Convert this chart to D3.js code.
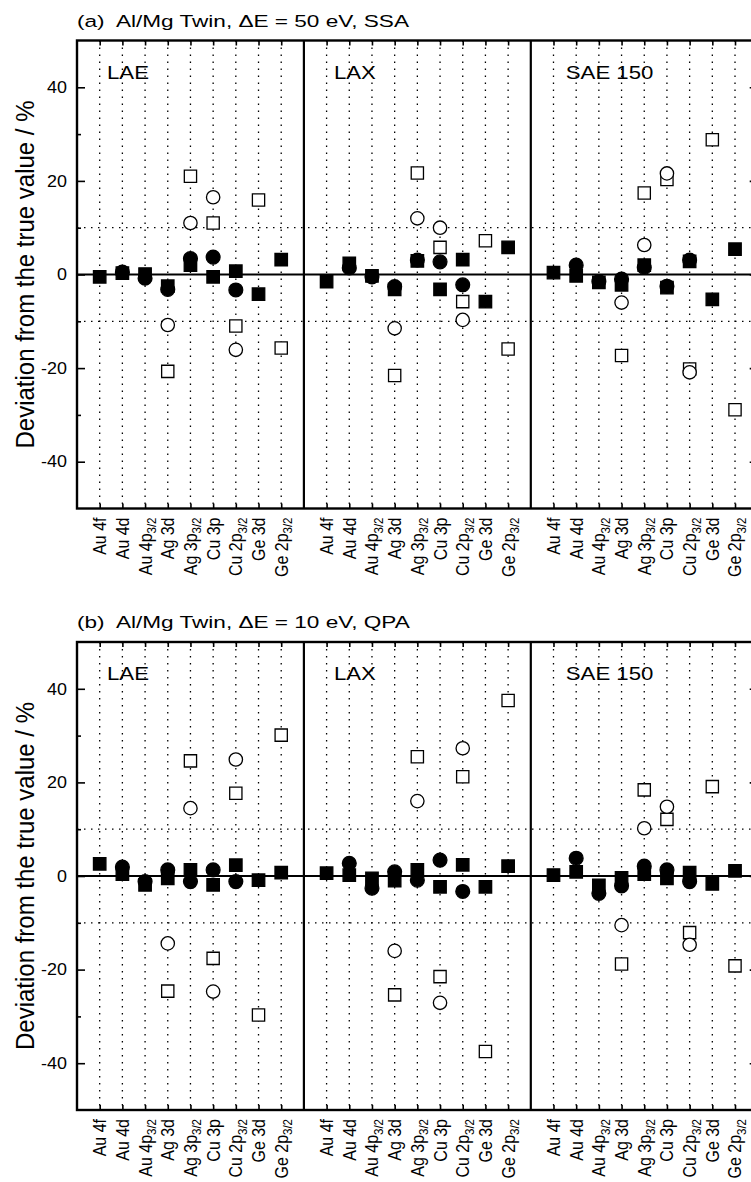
<!DOCTYPE html>
<html>
<head>
<meta charset="utf-8">
<script src="https://cdn.jsdelivr.net/npm/d3@7"></script>
<style>
  body { margin: 0; background: #fff; }
  svg { display: block; font-family: "Liberation Sans", Arial, sans-serif; }
  text { white-space: pre; }
</style>
</head>
<body>
<div id="chart"></div>
<script>
const categories = ["Au 4f", "Au 4d", "Au 4p", "Ag 3d", "Ag 3p", "Cu 3p", "Cu 2p", "Ge 3d", "Ge 2p"]
const subscripts = ["", "", "3/2", "", "3/2", "", "3/2", "", "3/2"]
const methods = ["LAE", "LAX", "SAE 150"]
const panelTitles = ["(a)  Al/Mg Twin, \u0394E = 50 eV, SSA", "(b)  Al/Mg Twin, \u0394E = 10 eV, QPA"]
const yTickValues = [40, 20, 0, -20, -40]
const yMinorValues = [30, 10, -10, -30]
const yTitle = "Deviation from the true value / %"

// 27 values each: LAE (9 lines), LAX (9 lines), SAE 150 (9 lines); null = not visible
const aFilledSquare = [-0.5, 0.3, 0.1, -2.5, 2.0, -0.5, 0.7, -4.2, 3.2,
                       -1.5, 2.4, -0.3, -3.2, 2.9, -3.2, 3.2, -5.8, 5.8,
                       0.4, -0.3, -1.7, -2.2, 2.0, -2.8, 2.8, -5.3, 5.4]
const aFilledCircle = [null, 0.5, -0.8, -3.2, 3.4, 3.7, -3.3, null, null,
                       null, 1.4, -0.5, -2.6, 3.1, 2.7, -2.2, null, null,
                       null, 2.0, -1.5, -1.0, 1.5, -2.5, 3.1, null, null]
const aOpenSquare = [null, null, null, -20.7, 21.0, 11.0, -11.0, 15.9, -15.7,
                     null, null, null, -21.6, 21.7, 5.8, -5.8, 7.2, -15.9,
                     null, null, null, -17.3, 17.4, 20.3, -20.2, 28.8, -28.9]
const aOpenCircle = [null, null, null, -10.8, 11.0, 16.5, -16.1, null, null,
                     null, null, null, -11.5, 12.0, 10.0, -9.7, null, null,
                     null, null, null, -6.0, 6.3, 21.6, -20.9, null, null]

const bFilledSquare = [2.6, 0.4, -1.9, -0.5, 1.3, -1.9, 2.3, -0.9, 0.7,
                       0.6, 0.2, -0.5, -1.0, 1.3, -2.3, 2.4, -2.3, 2.1,
                       0.2, 0.9, -2.0, -0.4, 0.4, -0.5, 0.7, -1.7, 1.1]
const bFilledCircle = [null, 1.9, -1.2, 1.3, -1.2, 1.3, -1.2, null, null,
                       null, 2.7, -2.6, 0.9, -0.9, 3.4, -3.3, null, null,
                       null, 3.8, -3.7, -2.1, 2.1, 1.3, -1.2, null, null]
const bOpenSquare = [null, null, null, -24.6, 24.6, -17.6, 17.7, -29.7, 30.1,
                     null, null, null, -25.4, 25.5, -21.5, 21.2, -37.5, 37.5,
                     null, null, null, -18.8, 18.4, 12.1, -12.1, 19.1, -19.2]
const bOpenCircle = [null, null, null, -14.4, 14.5, -24.7, 24.9, null, null,
                     null, null, null, -16.0, 16.0, -27.1, 27.3, null, null,
                     null, null, null, -10.5, 10.2, 14.8, -14.7, null, null]

const width = 751
const height = 1182
const left = 77
const right = 757.7

const panels = [
  {title: panelTitles[0], top: 40.5, bottom: 508.5,
   series: {openSquare: aOpenSquare, openCircle: aOpenCircle, filledSquare: aFilledSquare, filledCircle: aFilledCircle}},
  {title: panelTitles[1], top: 642, bottom: 1110,
   series: {openSquare: bOpenSquare, openCircle: bOpenCircle, filledSquare: bFilledSquare, filledCircle: bFilledCircle}}
]

const markerStyles = [
  {key: 'openSquare', type: d3.symbolSquare, size: 150, fill: '#fff'},
  {key: 'openCircle', type: d3.symbolCircle, size: 140, fill: '#fff'},
  {key: 'filledSquare', type: d3.symbolSquare, size: 155, fill: '#000'},
  {key: 'filledCircle', type: d3.symbolCircle, size: 150, fill: '#000'}
]

const svg = d3.select('#chart')
  .append('svg')
  .attr('width', width)
  .attr('height', height)

const xScale = d3.scaleLinear().domain([0, 30]).range([left, right])
const catPos = d3.range(27).map(k => Math.floor(k / 9) * 10 + (k % 9) + 1)

const stretchText = (g, x, y, sx, rotate) =>
  g.append('text')
    .attr('transform', `translate(${x},${y}) scale(${sx},1)` + (rotate ? ' rotate(-90)' : ''))

panels.forEach(p => {
  const yScale = d3.scaleLinear().domain([-50, 50]).range([p.bottom, p.top])
  const g = svg.append('g')

  // dotted grid
  g.selectAll('.vgrid')
    .data(catPos)
    .enter()
    .append('line')
    .attr('x1', d => xScale(d)).attr('x2', d => xScale(d))
    .attr('y1', p.top).attr('y2', p.bottom)
    .attr('stroke', '#000').attr('stroke-width', 1.3)
    .attr('stroke-dasharray', '1.5,5.5')

  g.selectAll('.hgrid')
    .data([10, -10])
    .enter()
    .append('line')
    .attr('x1', left).attr('x2', right)
    .attr('y1', d => yScale(d)).attr('y2', d => yScale(d))
    .attr('stroke', '#000').attr('stroke-width', 1.3)
    .attr('stroke-dasharray', '1.5,5.5')

  // zero line and group dividers
  g.append('line')
    .attr('x1', left).attr('x2', right)
    .attr('y1', yScale(0)).attr('y2', yScale(0))
    .attr('stroke', '#000').attr('stroke-width', 2)
  g.selectAll('.divider')
    .data([10, 20])
    .enter()
    .append('line')
    .attr('x1', d => xScale(d)).attr('x2', d => xScale(d))
    .attr('y1', p.top).attr('y2', p.bottom)
    .attr('stroke', '#000').attr('stroke-width', 2.2)

  // axes (inward ticks)
  g.append('g').attr('transform', `translate(${left},0)`)
    .call(d3.axisLeft(yScale).tickValues(yTickValues).tickSize(-8).tickFormat(''))
  g.append('g').attr('transform', `translate(${left},0)`)
    .call(d3.axisLeft(yScale).tickValues(yMinorValues).tickSize(-4).tickFormat(''))
  g.append('g').attr('transform', `translate(${right},0)`)
    .call(d3.axisRight(yScale).tickValues(yTickValues).tickSize(-8).tickFormat(''))
  g.append('g').attr('transform', `translate(${right},0)`)
    .call(d3.axisRight(yScale).tickValues(yMinorValues).tickSize(-4).tickFormat(''))
  g.append('g').attr('transform', `translate(0,${p.top})`)
    .call(d3.axisTop(xScale).tickValues(catPos).tickSize(-5).tickFormat(''))
  g.append('g').attr('transform', `translate(0,${p.bottom})`)
    .call(d3.axisBottom(xScale).tickValues(catPos).tickSize(-5).tickFormat(''))
  g.selectAll('.domain').remove()
  g.selectAll('.tick line').attr('stroke', '#000').attr('stroke-width', 1.6)

  g.append('rect')
    .attr('x', left).attr('y', p.top)
    .attr('width', right - left).attr('height', p.bottom - p.top)
    .attr('fill', 'none').attr('stroke', '#000').attr('stroke-width', 2.4)

  // markers
  markerStyles.forEach(m => {
    const pts = p.series[m.key]
      .map((v, k) => ({x: catPos[k], v: v}))
      .filter(d => d.v !== null)
    g.selectAll('.' + m.key)
      .data(pts)
      .enter()
      .append('path')
      .attr('class', m.key)
      .attr('d', d3.symbol().type(m.type).size(m.size))
      .attr('transform', d => `translate(${xScale(d.x)},${yScale(d.v)})`)
      .attr('fill', m.fill)
      .attr('stroke', '#000')
      .attr('stroke-width', 1.3)
  })

  // y tick labels
  yTickValues.forEach(v => {
    stretchText(g, 67, yScale(v), 1.12, false)
      .attr('text-anchor', 'end').attr('dy', '0.36em')
      .attr('font-size', 16)
      .text(v)
  })

  // y title
  stretchText(g, 34, (p.top + p.bottom) / 2, 1.1, true)
    .attr('text-anchor', 'middle')
    .attr('font-size', 24)
    .text(yTitle)

  // panel title
  stretchText(g, 77, p.top - 14, 1.37, false)
    .attr('font-size', 16.5)
    .text(p.title)

  // method labels
  methods.forEach((name, i) => {
    stretchText(g, xScale(i * 10) + (i === 2 ? 35 : 30), p.top + 38, 1.2, false)
      .attr('font-size', 18.5)
      .text(name)
  })

  // category labels
  catPos.forEach((c, k) => {
    const t = stretchText(g, xScale(c), p.bottom + 9, 1.12, true)
      .attr('text-anchor', 'end')
      .attr('dy', '0.36em')
      .attr('font-size', 16)
    t.append('tspan').text(categories[k % 9])
    if (subscripts[k % 9]) {
      t.append('tspan').attr('font-size', 11.5).attr('dy', 4).text(subscripts[k % 9])
    }
  })
})
</script>
</body>
</html>
